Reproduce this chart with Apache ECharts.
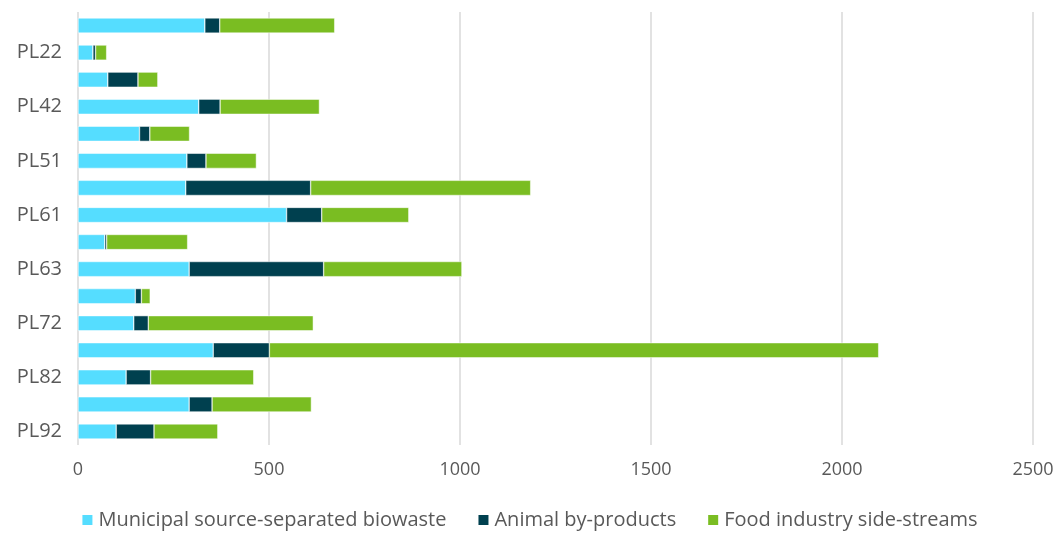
<!DOCTYPE html>
<html>
<head>
<meta charset="utf-8">
<script src="https://cdn.jsdelivr.net/npm/echarts@6/dist/echarts.min.js"></script>
<style>
  html, body { margin: 0; padding: 0; background: #fff; }
  #chart { width: 1058px; height: 538px; }
</style>
</head>
<body>
<div id="chart"></div>
<script>
// regions, top to bottom
var regions = ["PL21","PL22","PL41","PL42","PL43","PL51","PL52","PL61","PL62","PL63","PL71","PL72","PL81","PL82","PL84","PL92"];
var municipal = [332, 39, 78, 316, 161, 285, 282, 546, 70, 291, 150, 146, 354, 126, 291, 100];
var animal    = [ 39,  7, 79,  56,  27,  50, 327,  92,  5, 352,  16,  38, 147,  64,  60,  99];
var food      = [301, 29, 52, 260, 104, 132, 576, 228, 212, 362, 23, 432, 1595, 270, 260, 167];
var xTicks = [0, 500, 1000, 1500, 2000, 2500];

var names = ["Municipal source-separated biowaste", "Animal by-products", "Food industry side-streams"];
var colors = ["#55DDFF", "#00404F", "#7ABD22"];
var values = [municipal, animal, food];

var chart = echarts.init(document.getElementById("chart"));

var series = [];
for (var i = 0; i < names.length; i++) {
    series.push({
        name: names[i],
        type: "bar",
        stack: "total",
        barCategoryGap: "44%",
        data: values[i],
        itemStyle: { color: colors[i], borderColor: "#ffffff", borderWidth: 0.5 }
    });
}

var option = {
    animation: false,
    textStyle: { fontFamily: "Open Sans" },
    grid: { left: 78, right: 25, top: 12, bottom: 93, containLabel: false },
    legend: {
        bottom: 3,
        left: "center",
        icon: "rect",
        itemWidth: 12,
        itemHeight: 12,
        itemGap: 30,
        textStyle: { color: "#595959", fontSize: 20, fontFamily: "Open Sans" },
        data: names
    },
    xAxis: {
        type: "value",
        min: xTicks[0],
        max: xTicks[xTicks.length - 1],
        interval: 500,
        axisLine: { show: false },
        axisTick: { show: false },
        axisLabel: {
            color: "#595959",
            fontSize: 18,
            margin: 16,
            formatter: function (v) { return String(v); }
        },
        splitLine: { show: true, lineStyle: { color: "#d9d9d9", width: 1.5 } }
    },
    yAxis: {
        type: "category",
        inverse: true,
        data: regions,
        axisLine: { show: false },
        axisTick: { show: false },
        axisLabel: {
            color: "#595959",
            fontSize: 20,
            margin: 16,
            interval: function (idx) { return idx % 2 === 1; }
        }
    },
    series: series
};

chart.setOption(option);
</script>
</body>
</html>
